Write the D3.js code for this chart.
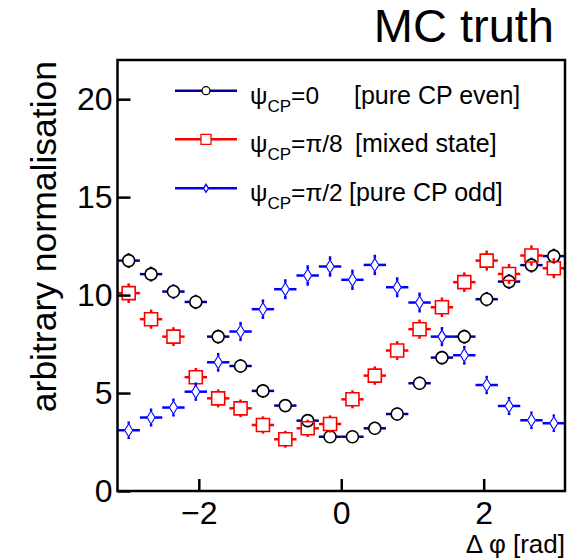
<!DOCTYPE html>
<html>
<head>
<meta charset="utf-8">
<script src="https://cdn.jsdelivr.net/npm/d3@7"></script>
<style>
  html, body { margin: 0; padding: 0; background: #fff; }
  svg { display: block; font-family: "Liberation Sans", Arial, Helvetica, sans-serif; }
</style>
</head>
<body>
<svg id="chart" width="585" height="560"></svg>
<script>
// ---- data (20 bins over [-pi, pi]) ----
const nBins = 20;
const binEdges = d3.range(nBins + 1).map(i => -Math.PI + i * 2 * Math.PI / nBins);
const evenValues = [11.76, 11.07, 10.18, 9.65, 7.88, 6.38, 5.11, 4.36, 3.59, 2.77,
                    2.77, 3.20, 3.93, 5.50, 6.81, 7.88, 9.79, 10.69, 11.53, 11.99];
const mixedValues = [10.10, 8.77, 7.88, 5.81, 4.73, 4.22, 3.37, 2.64, 3.20, 3.42,
                     4.68, 5.89, 7.17, 8.26, 9.38, 10.66, 11.76, 11.08, 12.02, 11.37];
const oddValues = [3.10, 3.75, 4.26, 5.07, 6.57, 8.14, 9.28, 10.30, 11.00, 11.46,
                   10.78, 11.54, 10.40, 9.62, 7.88, 6.93, 5.41, 4.34, 3.61, 3.46];
const evenErrors = [0.38, 0.38, 0.37, 0.37, 0.36, 0.35, 0.34, 0.33, 0.33, 0.32,
                    0.32, 0.33, 0.33, 0.34, 0.35, 0.36, 0.37, 0.38, 0.38, 0.38];
const mixedErrors = [0.50, 0.49, 0.48, 0.47, 0.46, 0.45, 0.44, 0.43, 0.44, 0.44,
                     0.46, 0.47, 0.48, 0.49, 0.50, 0.50, 0.51, 0.51, 0.52, 0.51];
const oddErrors = [0.45, 0.46, 0.46, 0.47, 0.48, 0.49, 0.50, 0.51, 0.52, 0.52,
                   0.52, 0.52, 0.51, 0.51, 0.49, 0.48, 0.47, 0.46, 0.45, 0.45];
const xTicks = [-2, 0, 2];
const yTicks = [0, 5, 10, 15, 20];
const seriesNames = ["=0", "=\u03C0/8", "=\u03C0/2"];
const seriesNotes = ["[pure CP even]", "[mixed state]", "[pure CP odd]"];

// ---- layout ----
const svg = d3.select("#chart");
const frame = {left: 117.5, right: 565, top: 60, bottom: 491};
const x = d3.scaleLinear().domain([-Math.PI, Math.PI]).range([frame.left, frame.right]);
const y = d3.scaleLinear().domain([0, 22]).range([frame.bottom, frame.top]);

const series = [
  {values: evenValues, errors: evenErrors, bar: "#000099", stroke: "#000000", shape: "circle", half: 6},
  {values: mixedValues, errors: mixedErrors, bar: "#ff0000", stroke: "#ff0000", shape: "square", half: 6.5},
  {values: oddValues, errors: oddErrors, bar: "#0000ff", stroke: "#0000ff", shape: "diamond", half: 6.5, halfW: 4}
];

function markerPath(shape, half, halfW) {
  if (shape === "circle") return d3.arc()({innerRadius: 0, outerRadius: half, startAngle: 0, endAngle: 2 * Math.PI});
  if (shape === "square") return `M${-half},${-half}H${half}V${half}H${-half}Z`;
  const w = halfW || half * 0.7;
  return `M0,${-half}L${w},0L0,${half}L${-w},0Z`;
}

const plot = svg.append("g");
series.forEach(s => {
  const g = plot.append("g");
  s.values.forEach((v, i) => {
    const x0 = x(binEdges[i]), x1 = x(binEdges[i + 1]);
    const cx = (x0 + x1) / 2, cy = y(v);
    const hw = s.shape === "diamond" ? s.halfW : s.half;
    const yUp = y(v + s.errors[i]), yDn = y(v - s.errors[i]);
    g.append("line").attr("x1", x0).attr("x2", cx - hw).attr("y1", cy).attr("y2", cy)
      .attr("stroke", s.bar).attr("stroke-width", 2.5);
    g.append("line").attr("x1", cx + hw).attr("x2", x1).attr("y1", cy).attr("y2", cy)
      .attr("stroke", s.bar).attr("stroke-width", 2.5);
    if (cy - yUp > s.half) {
      g.append("line").attr("x1", cx).attr("x2", cx).attr("y1", yUp).attr("y2", cy - s.half)
        .attr("stroke", s.bar).attr("stroke-width", 2.5);
      g.append("line").attr("x1", cx).attr("x2", cx).attr("y1", cy + s.half).attr("y2", yDn)
        .attr("stroke", s.bar).attr("stroke-width", 2.5);
    }
    g.append("path").attr("d", markerPath(s.shape, s.half, s.halfW))
      .attr("transform", `translate(${cx},${cy})`)
      .attr("fill", "none").attr("stroke", s.stroke).attr("stroke-width", s.shape === "diamond" ? 1.1 : 1.6);
  });
});

// ---- frame & axes ----
svg.append("rect").attr("x", frame.left).attr("y", frame.top)
  .attr("width", frame.right - frame.left).attr("height", frame.bottom - frame.top)
  .attr("fill", "none").attr("stroke", "#000").attr("stroke-width", 2.5);

const xAxis = d3.axisBottom(x).tickValues(xTicks).tickSizeInner(-12).tickSizeOuter(0)
  .tickPadding(10).tickFormat(d => d < 0 ? "\u2212" + Math.abs(d) : String(d));
const gx = svg.append("g").attr("transform", `translate(0,${frame.bottom})`).call(xAxis);
gx.select(".domain").remove();
gx.selectAll(".tick line").attr("stroke-width", 2.5);
gx.selectAll(".tick text").attr("font-size", 32).attr("font-family", "Liberation Sans, Arial, sans-serif").attr("fill", "#000");

const yAxis = d3.axisLeft(y).tickValues(yTicks).tickSizeInner(-13).tickSizeOuter(0).tickPadding(5);
const gy = svg.append("g").attr("transform", `translate(${frame.left},0)`).call(yAxis);
gy.select(".domain").remove();
gy.selectAll(".tick line").attr("stroke-width", 2.5);
gy.selectAll(".tick text").attr("font-size", 32).attr("font-family", "Liberation Sans, Arial, sans-serif").attr("fill", "#000");

// axis titles
svg.append("text").attr("transform", `translate(56,${frame.top + 1}) rotate(-90)`)
  .attr("text-anchor", "end").attr("font-size", 35.5).text("arbitrary normalisation");
svg.append("text").attr("x", frame.right).attr("y", 553).attr("text-anchor", "end")
  .attr("font-size", 26).text("\u0394 \u03C6 [rad]");
svg.append("text").attr("x", 554).attr("y", 42).attr("text-anchor", "end")
  .attr("font-size", 47).text("MC truth");

// ---- legend ----
const legendRows = [90.7, 139.3, 188.3];
const noteX = [354, 355, 349];
series.forEach((s, i) => {
  const ly = legendRows[i];
  svg.append("line").attr("x1", 175).attr("x2", 237).attr("y1", ly).attr("y2", ly)
    .attr("stroke", s.bar).attr("stroke-width", 2.5);
  const lh = s.shape === "circle" ? 4 : (s.shape === "square" ? 5 : 4);
  svg.append("path").attr("d", markerPath(s.shape, lh, 2.5))
    .attr("transform", `translate(206,${ly})`)
    .attr("fill", "#fff").attr("stroke", s.stroke).attr("stroke-width", 1.3);
  const t = svg.append("text").attr("x", 250).attr("y", ly + 13).attr("font-size", 24.5);
  t.append("tspan").text("\u03C8");
  t.append("tspan").attr("font-size", 17).attr("dy", 8).text("CP");
  t.append("tspan").attr("dy", -8).text(seriesNames[i]);
  svg.append("text").attr("x", noteX[i]).attr("y", ly + 13).attr("font-size", 25).text(seriesNotes[i]);
});
</script>
</body>
</html>
